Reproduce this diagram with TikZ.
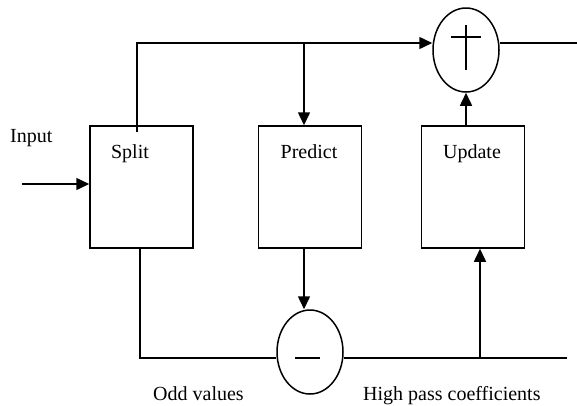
\documentclass[tikz,border=0pt]{standalone}
\usepackage{fontspec}
\setmainfont{Liberation Serif}
\usetikzlibrary{arrows.meta,shapes.geometric}
\begin{document}
\begin{tikzpicture}[x=1pt,y=-1pt,
  blk/.style={draw,line width=1.5pt,minimum width=103pt,minimum height=122pt,inner sep=0pt},
  opnode/.style={draw,ellipse,line width=1.5pt,minimum width=66pt,minimum height=84pt,inner sep=0pt},
  wire/.style={line width=1.5pt},
  arr/.style={line width=1.5pt,-{Triangle[length=13pt,width=12pt]}},
  lbl/.style={font=\fontsize{20}{24}\selectfont,anchor=base,inner sep=0pt}]
\useasboundingbox (0,0) rectangle (577,405);
% blocks
\node[blk] (split) at (141.5,187) {};
\node[blk] (predict) at (310,187) {};
\node[blk] (update) at (473,187) {};
\node[lbl] at (130,158) {Split};
\node[lbl] at (309,158) {Predict};
\node[lbl] at (472,158) {Update};
% operators
\node[opnode] (plus) at (466,50) {};
\node[opnode] (minus) at (310,352) {};
\draw[line width=1.2pt] (451,37) -- (481,37) (466,25) -- (466,70);
\draw[line width=1.2pt] (295,358) -- (320,358);
% coordinates
\coordinate (tl) at (137,43);
\coordinate (tb) at (304,43);
\coordinate (outR) at (577,43);
\coordinate (inL) at (22,184);
\coordinate (sb) at (140,358);
\coordinate (hpR) at (567,358);
\coordinate (ub) at (480,358);
% connectors
\draw[wire] ([yshift=-7pt]split.north -| tl) -- (tl) -- (tb);
\draw[arr] (tb) -- (plus.west |- tb);
\draw[arr] (tb) -- (predict.north -| tb);
\draw[wire] (plus.east |- outR) -- (outR);
\draw[arr] (update.north -| plus) -- (plus.south);
\draw[arr] (inL) -- (split.west |- inL);
\draw[wire] (split.south -| sb) -- (sb) -- (minus.west |- sb);
\draw[arr] (predict.south -| tb) -- (minus.north -| tb);
\draw[wire] (minus.east |- hpR) -- (hpR);
\draw[arr] (ub) -- (update.south -| ub);
% labels
\node[lbl,anchor=base west] at (10,142) {Input};
\node[lbl,anchor=base west] at (153,400) {Odd values};
\node[lbl,anchor=base west] at (363,400) {High pass coefficients};
\end{tikzpicture}
\end{document}
